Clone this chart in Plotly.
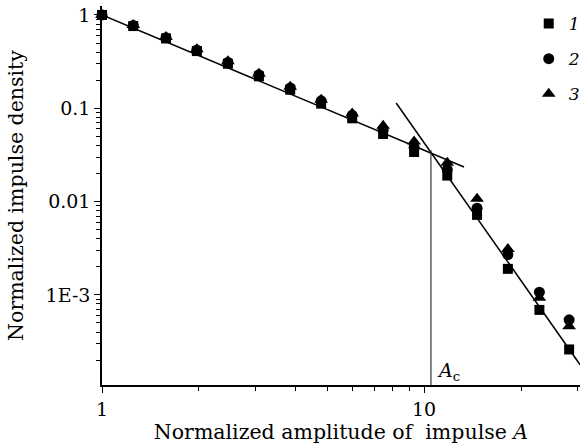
import plotly.graph_objects as go

# Normalized amplitude A (x)
amplitude = [1.0, 1.25, 1.58, 1.97, 2.46, 3.07, 3.84, 4.79, 5.98, 7.46, 9.31, 11.8, 14.6, 18.2, 22.8, 28.2]

# Normalized impulse density for the three series
series1 = [1.0, 0.76, 0.56, 0.41, 0.30, 0.22, 0.158, 0.112, 0.078, 0.053, 0.034, 0.019, 0.0072, 0.0019, 0.00069, 0.00026]
series2 = [1.0, 0.77, 0.57, 0.42, 0.31, 0.228, 0.165, 0.120, 0.084, 0.058, 0.038, 0.022, 0.0085, 0.0027, 0.00107, 0.00054]
series3 = [1.0, 0.78, 0.58, 0.43, 0.32, 0.235, 0.170, 0.123, 0.088, 0.065, 0.044, 0.026, 0.0107, 0.0031, 0.00093, 0.00046]

# Fitted lines (end points)
fit1_x = [1.0, 13.3]
fit1_y = [1.0, 0.0235]
fit2_x = [8.19, 30.5]
fit2_y = [0.114, 0.000178]

# Critical amplitude marker
ac_x = [10.5, 10.5]
ac_y = [0.0001, 0.0355]

y_tickvals = [1, 0.1, 0.01, 0.001]
y_ticktext = ["1", "0.1", "0.01", "1E-3"]
x_tickvals = [1, 10]
x_ticktext = ["1", "10"]

FONT = "DejaVu Serif"

fig = go.Figure()

for xs, ys in [(fit1_x, fit1_y), (fit2_x, fit2_y)]:
    fig.add_trace(go.Scatter(x=xs, y=ys, mode="lines", line=dict(color="black", width=1.5),
                             showlegend=False, hoverinfo="skip", cliponaxis=True))
fig.add_trace(go.Scatter(x=ac_x, y=ac_y, mode="lines", line=dict(color="#333333", width=1.2),
                         showlegend=False, hoverinfo="skip"))

specs = [
    (series1, "square", "<i>1</i>", 10),
    (series2, "circle", "<i>2</i>", 11),
    (series3, "triangle-up", "<i>3</i>", 12),
]
for i, (ys, sym, name, sz) in enumerate(specs):
    fig.add_trace(go.Scatter(
        x=amplitude, y=ys, mode="markers", name=name,
        marker=dict(symbol=sym, size=sz, color="black", line=dict(width=0)),
        cliponaxis=False, legendgroup=str(i),
    ))

fig.add_annotation(x=1.035, y=-3.82, xref="x", yref="y", text="<i>A</i><sub>c</sub>",
                   showarrow=False, xanchor="left", yanchor="middle",
                   font=dict(family=FONT, size=19, color="black"))

fig.update_layout(
    width=582, height=445,
    margin=dict(l=102, r=2, t=6, b=60, autoexpand=False),
    paper_bgcolor="white", plot_bgcolor="white",
    font=dict(family=FONT, size=19, color="black"),
    legend=dict(x=1.012, y=1.0, xanchor="right", yanchor="top", bgcolor="rgba(0,0,0,0)",
                font=dict(family=FONT, size=17), tracegroupgap=10, itemwidth=30),
)
fig.update_xaxes(
    type="log", range=[0, 1.484],
    showgrid=False, zeroline=False, showline=True, linecolor="black", linewidth=1.5,
    ticks="outside", ticklen=6, tickcolor="black", tickwidth=1.2,
    tickvals=x_tickvals, ticktext=x_ticktext, tickfont=dict(family=FONT, size=19),
    minor=dict(ticks="outside", ticklen=4, tickcolor="black", dtick="D1", showgrid=False),
    title=dict(text="Normalized amplitude of  impulse <i>A</i>", font=dict(family=FONT, size=20.5), standoff=0),
    automargin=False,
)
fig.update_yaxes(
    type="log", range=[-3.966, 0.096],
    showgrid=False, zeroline=False, showline=True, linecolor="black", linewidth=1.5,
    ticks="outside", ticklen=6, tickcolor="black", tickwidth=1.2,
    tickvals=y_tickvals, ticktext=y_ticktext, tickfont=dict(family=FONT, size=19),
    minor=dict(ticks="outside", ticklen=4, tickcolor="black", dtick="D1", showgrid=False),
    title=dict(text="Normalized impulse density", font=dict(family=FONT, size=20.5), standoff=16),
    automargin=False,
)

fig.write_html("out.html", config={"displayModeBar": False},
               post_script="document.body.style.margin='0';document.body.style.overflow='hidden';")
